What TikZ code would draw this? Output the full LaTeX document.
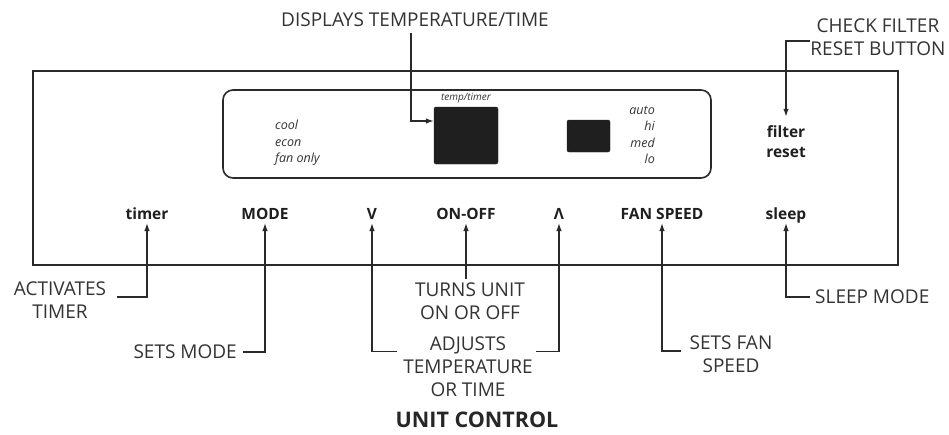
\documentclass[tikz,border=0pt]{standalone}
\usepackage{fontspec}
\setmainfont{Open Sans}
\usetikzlibrary{arrows.meta}
\definecolor{ink}{HTML}{2A2A2A}
\definecolor{notegrey}{HTML}{333333}
\begin{document}
\begin{tikzpicture}[x=1pt,y=-1pt,
  frame/.style={draw=ink, line width=1.8pt},
  conn/.style={draw=ink, line width=1.3pt},
  arr/.style={conn, -{Latex[length=8pt,width=5.5pt]}},
  note/.style={text=notegrey, font=\fontsize{19}{23}\selectfont, align=center, inner sep=0pt},
  btn/.style={text=black!88, font=\bfseries\fontsize{15.5}{20}\selectfont, inner sep=0pt, align=center},
  mini/.style={text=notegrey, font=\itshape\fontsize{12.5}{16.4}\selectfont, inner sep=0pt},
  screen/.style={fill=black!88, draw=black!88, rounded corners=2pt, inner sep=0pt}
]
\useasboundingbox (0,0) rectangle (949,434);
\fill[white] (0,0) rectangle (949,434);

% panel and display
\draw[frame] (33,71) rectangle (898,265);
\draw[frame, line width=1.6pt, rounded corners=10pt] (223,90) rectangle (711,178);
\node[screen, minimum width=64, minimum height=57] (tempscreen) at (466,135.5) {};
\node[screen, minimum width=43, minimum height=32] (fanscreen) at (588.5,136) {};
\node[mini, font=\itshape\fontsize{10}{12}\selectfont] (templbl) at (466,98) {temp/timer};
\node[mini, align=left, anchor=west] (modes) at (275,143) {cool\\econ\\fan only};
\node[mini, align=right, anchor=east] (speeds) at (655,135) {auto\\hi\\med\\lo};

% buttons
\node[btn] (filter) at (786,142) {filter\\reset};
\node[btn, anchor=base] (timer) at (147,219) {timer};
\node[btn, anchor=base] (mode) at (265,219) {MODE};
\node[btn, anchor=base] (down) at (372,219) {V};
\node[btn, anchor=base] (onoff) at (466,219) {ON-OFF};
\node[btn, anchor=base] (up) at (559,219) {Λ};
\node[btn, anchor=base] (fanspeed) at (662,219) {FAN SPEED};
\node[btn, anchor=base] (sleep) at (786,219) {sleep};

% annotations
\node[note] (disp) at (415,20) {DISPLAYS TEMPERATURE/TIME};
\node[note] (check) at (878,37) {CHECK FILTER\\RESET BUTTON};
\node[note] (acttimer) at (60,300) {ACTIVATES\\TIMER};
\node[note, anchor=east] (setsmode) at (237,352) {SETS MODE};
\node[note] (turns) at (470,301.5) {TURNS UNIT\\ON OR OFF};
\node[note] (adjusts) at (468,366.5) {ADJUSTS\\TEMPERATURE\\OR TIME};
\node[note] (setsfan) at (731,354) {SETS FAN\\SPEED};
\node[note, anchor=west] (sleepmode) at (815,297) {SLEEP MODE};
\node[note, text=black!85, font=\bfseries\fontsize{21.5}{26}\selectfont] (title) at (477,420) {UNIT CONTROL};

% connectors
\draw[arr] ([xshift=-4pt,yshift=-6pt]disp.south) |- ([yshift=14.5pt]tempscreen.west);
\draw[arr] ([xshift=0pt,yshift=-4pt]check.west) -| ([yshift=9pt]filter.north);
\draw[arr] ([xshift=11pt,yshift=3pt]acttimer.east) -| ([yshift=-4pt]timer.base);
\draw[arr] ([xshift=6pt]setsmode.east) -| ([yshift=-4pt]mode.base);
\draw[arr] ([xshift=-6pt,yshift=15pt]adjusts.west) -| ([yshift=-4pt]down.base);
\draw[arr] ([yshift=4pt]turns.north -| onoff.base) -- ([yshift=-4pt]onoff.base);
\draw[arr] ([xshift=3pt,yshift=15pt]adjusts.east) -| ([yshift=-4pt]up.base);
\draw[arr] ([xshift=-8pt,yshift=3pt]setsfan.west) -| ([yshift=-4pt]fanspeed.base);
\draw[arr] ([xshift=-5pt]sleepmode.west) -| ([yshift=-4pt]sleep.base);
\end{tikzpicture}
\end{document}
